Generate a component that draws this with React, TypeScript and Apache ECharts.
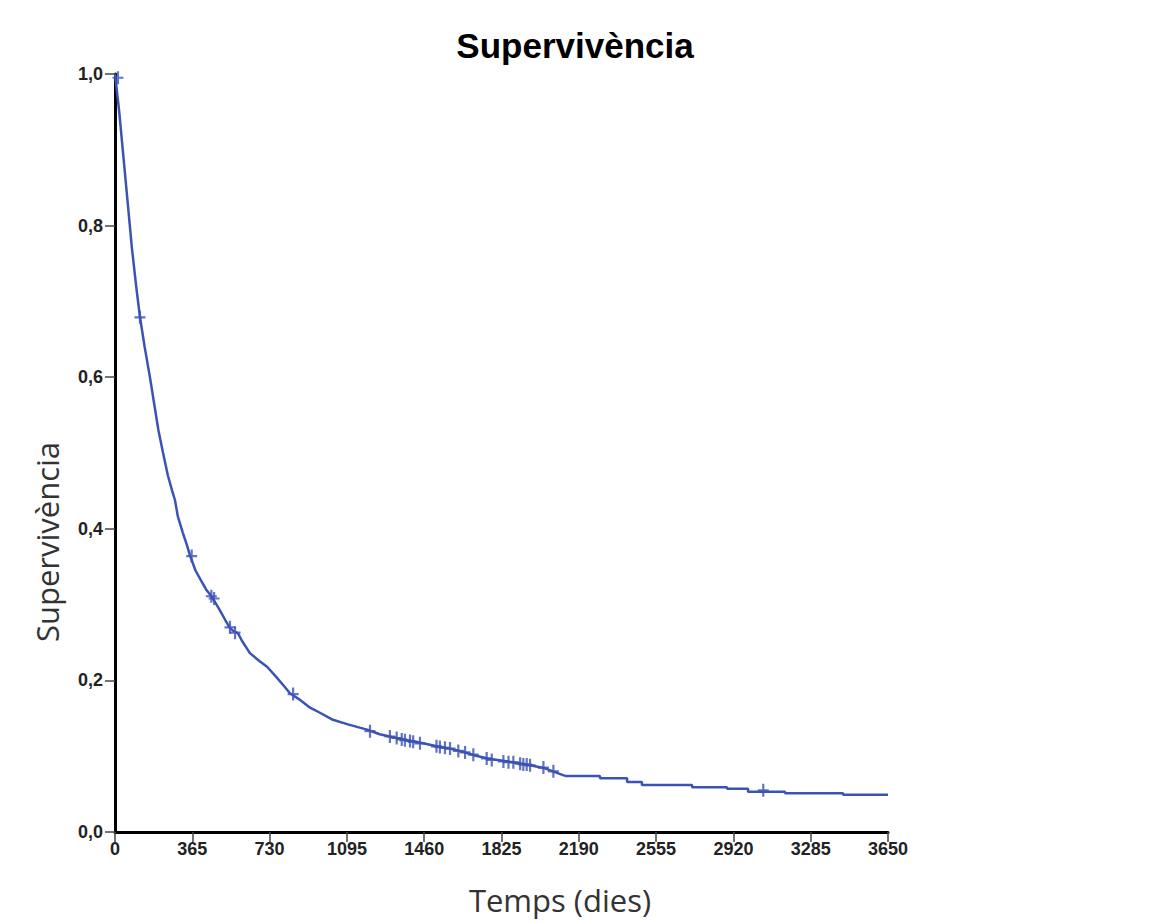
import React, { useEffect, useRef } from "react";
import * as echarts from "echarts";

const xTicks = [0, 365, 730, 1095, 1460, 1825, 2190, 2555, 2920, 3285, 3650];

// smooth-looking early part of the survival curve (many small steps)
const earlyDays = [
  0, 20, 40, 60, 80, 100, 118, 140, 165, 185, 205, 227, 250, 270, 283, 297, 320, 340, 354, 380,
  410, 430, 458, 490, 520, 543, 560, 581, 600, 637, 680, 718, 760, 800, 826, 870, 921, 970, 1029,
  1100, 1190, 1250, 1313, 1380, 1454, 1520, 1582, 1640, 1700, 1760, 1830, 1900, 1960, 2030, 2087,
  2125,
];
const earlyValues = [
  1.0, 0.95, 0.89, 0.83, 0.77, 0.72, 0.679, 0.64, 0.6, 0.565, 0.53, 0.5, 0.47, 0.45, 0.438, 0.416,
  0.395, 0.378, 0.365, 0.345, 0.33, 0.32, 0.31, 0.295, 0.28, 0.269, 0.265, 0.262, 0.252, 0.236,
  0.226, 0.218, 0.205, 0.192, 0.183, 0.175, 0.164, 0.157, 0.148, 0.142, 0.135, 0.129, 0.125, 0.121,
  0.117, 0.113, 0.11, 0.106, 0.101, 0.097, 0.094, 0.091, 0.088, 0.084, 0.078, 0.074,
];
// visibly stepped tail
const tailDays = [2125, 2290, 2418, 2488, 2725, 2890, 2989, 3164, 3438, 3650];
const tailValues = [0.074, 0.071, 0.066, 0.062, 0.059, 0.057, 0.053, 0.051, 0.049, 0.049];

const censorDays = [
  14, 118, 362, 455, 468, 543, 567, 841, 1204, 1298, 1330, 1354, 1369, 1393, 1408, 1440, 1518,
  1534, 1558, 1582, 1621, 1653, 1692, 1755, 1779, 1834, 1858, 1881, 1913, 1928, 1944, 1960, 2023,
  2070, 3061,
];
const censorValues = [
  0.995, 0.679, 0.364, 0.311, 0.308, 0.27, 0.263, 0.182, 0.133, 0.126, 0.124, 0.122, 0.121, 0.12,
  0.119, 0.117, 0.113, 0.112, 0.111, 0.11, 0.107, 0.105, 0.102, 0.097, 0.095, 0.093, 0.092, 0.092,
  0.09, 0.089, 0.089, 0.088, 0.085, 0.08, 0.055,
];

const BLUE = "#3b53b3";
const PLUS = "path://M4,0h2v5h4v2h-4v5h-2v-5h-4v-2h4z";

export default function App() {
  const ref = useRef<HTMLDivElement>(null);
  useEffect(() => {
    document.body.style.margin = "0";
    const chart = echarts.init(ref.current!, null, { renderer: "svg" });
    const tickFont = {
      fontFamily: "Liberation Sans, Arial",
      fontWeight: "bold" as const,
      fontSize: 18,
      color: "#222",
    };
    chart.setOption({
      animation: false,
      backgroundColor: "#fff",
      grid: { left: 115, right: 283, top: 74, bottom: 91, containLabel: false },
      xAxis: {
        type: "value",
        min: 0,
        max: 3650,
        interval: 365,
        axisLine: { show: true, lineStyle: { color: "#000", width: 3 } },
        axisTick: { show: true, length: 10, lineStyle: { color: "#444", width: 1.5 } },
        splitLine: { show: false },
        axisLabel: {
          ...tickFont,
          margin: 8,
          formatter: (v: number) => (xTicks.includes(v) ? String(v) : ""),
        },
      },
      yAxis: {
        type: "value",
        min: 0,
        max: 1,
        interval: 0.2,
        axisLine: { show: true, lineStyle: { color: "#000", width: 3 } },
        axisTick: { show: true, length: 10, lineStyle: { color: "#444", width: 1.5 } },
        splitLine: { show: false },
        axisLabel: {
          ...tickFont,
          margin: 12,
          formatter: (v: number) => v.toFixed(1).replace(".", ","),
        },
      },
      graphic: [
        {
          type: "text",
          x: 575,
          y: 45,
          style: {
            text: "Supervivència",
            font: "bold 35px 'Liberation Sans', Arial",
            fill: "#000",
            textAlign: "center",
            textVerticalAlign: "middle",
          },
        },
        {
          type: "text",
          x: 47,
          y: 542,
          rotation: Math.PI / 2,
          style: {
            text: "Supervivència",
            font: "31px 'Open Sans', sans-serif",
            fill: "#333",
            textAlign: "center",
            textVerticalAlign: "middle",
          },
        },
        {
          type: "text",
          x: 560,
          y: 900,
          style: {
            text: "Temps (dies)",
            font: "31px 'Open Sans', sans-serif",
            fill: "#333",
            textAlign: "center",
            textVerticalAlign: "middle",
          },
        },
      ],
      series: [
        {
          type: "line",
          showSymbol: false,
          symbol: "none",
          data: earlyDays.map((d, i) => [d, earlyValues[i]]),
          lineStyle: { color: BLUE, width: 2.5 },
          z: 2,
        },
        {
          type: "line",
          step: "end",
          showSymbol: false,
          symbol: "none",
          data: tailDays.map((d, i) => [d, tailValues[i]]),
          lineStyle: { color: BLUE, width: 2.5 },
          z: 2,
        },
        {
          type: "scatter",
          symbol: PLUS,
          symbolSize: [11, 13],
          data: censorDays.map((d, i) => [d, censorValues[i]]),
          itemStyle: { color: BLUE },
          z: 3,
        },
      ],
    });
    return () => chart.dispose();
  }, []);
  return <div ref={ref} style={{ width: 1171, height: 923 }} />;
}
